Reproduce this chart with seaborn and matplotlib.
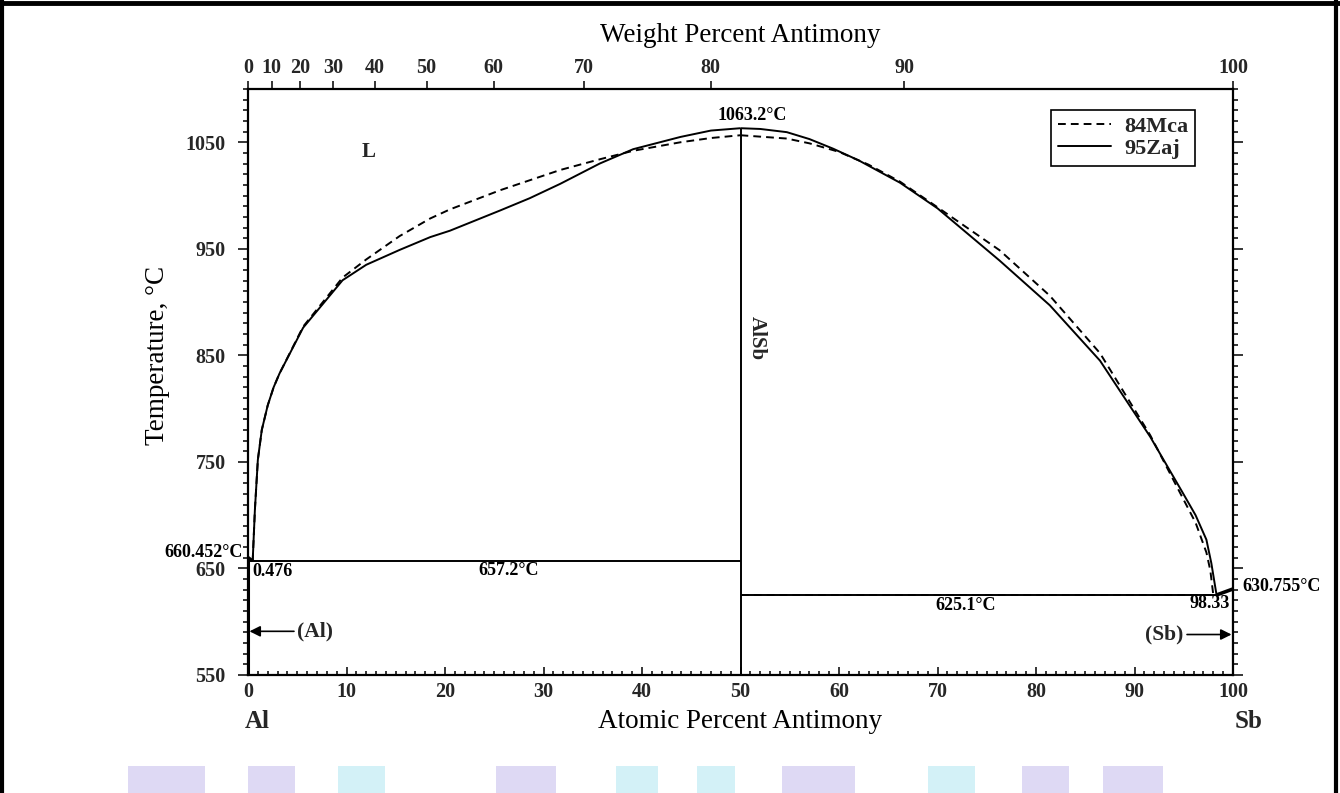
import matplotlib
matplotlib.use("Agg")
import matplotlib.pyplot as plt
from matplotlib.lines import Line2D
from matplotlib.patches import Rectangle
from matplotlib.ticker import MultipleLocator, FixedLocator
import numpy as np
import pandas as pd
import seaborn as sns

# Atomic masses used for the weight-percent scale
M_AL = 26.9815
M_SB = 121.76

# Liquidus, 84Mca assessment (dashed)
mca_left_at = [0.476, 0.7, 1.0, 1.4, 2.0, 2.6, 3.2, 5.6, 9.6, 12.0, 15.4, 18.5,
               20.5, 25.6, 31.7, 35.7, 39.1, 43.9, 47.0, 50.0]
mca_left_T = [657.2, 705, 752, 780, 803, 820, 833, 877, 923, 940, 962, 978.5,
              987, 1005, 1024, 1034, 1042, 1050, 1054, 1056.6]
mca_right_at = [50.0, 54.7, 57.0, 60.0, 63.0, 66.2, 70.0, 76.3, 81.4, 86.5, 91.6,
                94.96, 96.2, 97.3, 97.7, 98.0]
mca_right_T = [1056.6, 1053.5, 1049, 1041, 1029, 1013, 989, 948.7, 906, 852, 775,
               715, 693, 665, 648, 625.1]

# Liquidus, 95Zaj assessment (solid)
zaj_left_at = [0.476, 0.7, 1.0, 1.4, 2.0, 2.6, 3.2, 5.6, 9.6, 12.0, 15.4, 18.5,
               20.5, 25.6, 28.6, 31.7, 35.7, 39.1, 43.9, 47.0, 50.0]
zaj_left_T = [657.2, 705, 752, 780, 803, 820, 833, 876, 920.5, 935, 949, 961,
              967, 986, 997.5, 1011, 1030, 1043.5, 1055, 1061, 1063.2]
zaj_right_at = [50.0, 52.0, 54.7, 57.0, 59.4, 62.0, 66.2, 70.0, 76.3, 81.4, 86.5,
                91.6, 94.96, 96.2, 97.3, 97.8, 98.33]
zaj_right_T = [1063.2, 1062.5, 1059.5, 1053, 1044, 1033, 1012, 988, 939, 897, 845,
               773.5, 720, 700, 677, 655, 625.1]

# Invariant temperatures and compositions
T_AL_MELT = 660.452
T_SB_MELT = 630.755
T_EUT_AL = 657.2
X_EUT_AL = 0.476
T_EUT_SB = 625.1
X_EUT_SB = 98.33
T_ALSB_MELT = 1063.2
X_ALSB = 50.0

wt_ticks = [0, 10, 20, 30, 40, 50, 60, 70, 80, 90, 100]
temp_ticks = [550, 650, 750, 850, 950, 1050]
at_ticks = [0, 10, 20, 30, 40, 50, 60, 70, 80, 90, 100]


def wt_to_at(w):
    w = np.asarray(w, dtype=float)
    a = w / M_SB
    b = (100.0 - w) / M_AL
    return 100.0 * a / (a + b)


sns.set_theme(style="ticks")
plt.rcParams["font.family"] = ["Liberation Serif", "DejaVu Serif"]
plt.rcParams["mathtext.fontset"] = "stix"

W, H = 1340, 793
fig = plt.figure(figsize=(W / 100, H / 100), dpi=100)
fig.patch.set_facecolor("white")

L, R, T, B = 248, 1233, 89, 675
ax = fig.add_axes([L / W, 1 - B / H, (R - L) / W, (B - T) / H])
ax.set_xlim(0, 100)
ax.set_ylim(550, 1100)

LW = 1.4
DASH = (0, (4, 2.6))


def draw(x, y, dashed=False, lw=LW):
    sns.lineplot(x=x, y=y, ax=ax, color="black", lw=lw, sort=False,
                 estimator=None, linestyle=DASH if dashed else "-",
                 legend=False, solid_capstyle="butt", solid_joinstyle="round")


# liquidus curves
draw(mca_left_at, mca_left_T, dashed=True)
draw(mca_right_at, mca_right_T, dashed=True)
draw(zaj_left_at, zaj_left_T)
draw(zaj_right_at, zaj_right_T)

# Al end: melting point to eutectic, eutectic isotherm
draw([0, X_EUT_AL], [T_AL_MELT, T_EUT_AL], lw=2.2)
draw([0, X_ALSB], [T_EUT_AL, T_EUT_AL])
draw([0, 0], [550, T_AL_MELT], lw=2.2)

# AlSb line compound
draw([X_ALSB, X_ALSB], [550, T_ALSB_MELT])

# Sb end: eutectic isotherm (both assessments), Sb melting
draw([X_ALSB, X_EUT_SB], [T_EUT_SB, T_EUT_SB])
draw([X_ALSB, 98.0], [T_EUT_SB, T_EUT_SB], dashed=True)
draw([X_EUT_SB, 100], [T_EUT_SB, T_SB_MELT], lw=2.6)
draw([100, 100], [550, T_SB_MELT], lw=2.2)

# axes styling
for s in ax.spines.values():
    s.set_linewidth(1.6)
    s.set_color("black")

ax.xaxis.set_major_locator(FixedLocator(at_ticks))
ax.xaxis.set_minor_locator(MultipleLocator(1))
ax.yaxis.set_major_locator(FixedLocator(temp_ticks))
ax.yaxis.set_minor_locator(MultipleLocator(10))
ax.tick_params(axis="x", which="both", direction="in", top=True, bottom=True,
               color="black", width=1.1, pad=5)
ax.tick_params(axis="x", which="major", length=6)
ax.tick_params(axis="x", which="minor", length=3)
ax.tick_params(axis="y", which="both", direction="out", left=True, right=True,
               color="black", width=1.1, pad=9)
ax.tick_params(axis="y", which="major", length=7)
ax.tick_params(axis="y", which="minor", length=3.5)

tick_font = dict(fontsize=14.5, fontweight="bold")
ax.set_xticks(at_ticks)
ax.set_xticklabels([str(v) for v in at_ticks], **tick_font)
ax.set_yticks(temp_ticks)
ax.set_yticklabels([str(v) for v in temp_ticks], **tick_font)
ax.set_xlabel("")
ax.set_ylabel("")

# weight-percent scale on top
top = ax.twiny()
top.set_xlim(0, 100)
top.set_xticks(wt_to_at(wt_ticks))
top.set_xticklabels([str(v) for v in wt_ticks], **tick_font)
top.tick_params(axis="x", direction="out", length=6, width=1.1, pad=2,
                color="black")
top.xaxis.set_minor_locator(FixedLocator([]))
for s in top.spines.values():
    s.set_visible(False)
top.set_xlabel("")

# axis titles
title_font = dict(fontsize=19.5, color="black")
fig.text((L + R) / 2 / W, 1 - 35 / H, "Weight Percent Antimony", ha="center",
         va="center", **title_font)
fig.text(740 / W, 1 - 722 / H, "Atomic Percent Antimony", ha="center",
         va="center", **title_font)
fig.text(257 / W, 1 - 722 / H, "Al", ha="center", va="center", fontsize=18,
         fontweight="bold")
fig.text(1249 / W, 1 - 722 / H, "Sb", ha="center", va="center", fontsize=18,
         fontweight="bold")
fig.text(157 / W, 1 - 355 / H, "Temperature, °C", ha="center", va="center",
         rotation=90, **title_font)

# annotations
ann = dict(fontsize=13, fontweight="bold", color="black")
ax.text(51.2, 1067, "1063.2°C", ha="center", va="bottom", **ann)
ax.text(12.2, 1040.6, "L", ha="center", va="center", fontsize=15,
        fontweight="bold")
ax.text(51.7, 866, "AlSb", ha="center", va="center", rotation=-90, fontsize=15,
        fontweight="bold")
ax.text(-0.5, 665.4, "660.452°C", ha="right", va="center", **ann)
ax.text(0.4, 647.5, "0.476", ha="left", va="center", **ann)
ax.text(26.5, 647.8, "657.2°C", ha="center", va="center", **ann)
ax.text(72.9, 615.5, "625.1°C", ha="center", va="center", **ann)
ax.text(99.7, 617.0, "98.33", ha="right", va="center", **ann)
ax.text(101.0, 633.0, "630.755°C", ha="left", va="center", clip_on=False, **ann)

arrow = dict(arrowstyle="-|>", color="black", lw=1.2, mutation_scale=16,
             shrinkA=0, shrinkB=0)
ax.annotate("(Al)", xy=(0.15, 591), xytext=(5.0, 591), ha="left", va="center",
            arrowprops=arrow, fontsize=15.5, fontweight="bold")
ax.annotate("(Sb)", xy=(99.85, 588), xytext=(95.0, 588), ha="right",
            va="center", arrowprops=arrow, fontsize=15.5, fontweight="bold")

# legend
handles = [Line2D([], [], color="black", lw=LW, linestyle=DASH, label="84Mca"),
           Line2D([], [], color="black", lw=LW, linestyle="-", label="95Zaj")]
leg = ax.legend(handles=handles, loc="upper right",
                bbox_to_anchor=((1195 - L) / (R - L), (B - 110) / (B - T)),
                borderaxespad=0, frameon=True, fancybox=False, framealpha=1,
                edgecolor="black", handlelength=2.4, handletextpad=0.6,
                borderpad=0.3, labelspacing=0.05,
                prop=dict(family="Liberation Serif", weight="bold", size=16))
leg.get_frame().set_linewidth(1.2)

# page frame
frame_kw = dict(transform=fig.transFigure, color="black", clip_on=False)
fig.add_artist(Line2D([0, 1], [1 - 2.5 / H, 1 - 2.5 / H], lw=3.5, **frame_kw))
fig.add_artist(Line2D([2 / W, 2 / W], [0, 1], lw=3.0, **frame_kw))
fig.add_artist(Line2D([1336 / W, 1336 / W], [0, 1], lw=3.0, **frame_kw))

# pale decorative bands along the lower edge
bands = [(128, 205, "#d6d0f2"), (248, 295, "#d6d0f2"), (338, 385, "#c8eef6"),
         (496, 556, "#d6d0f2"), (616, 658, "#c8eef6"), (697, 735, "#c8eef6"),
         (782, 855, "#d6d0f2"), (928, 975, "#c8eef6"), (1022, 1069, "#d6d0f2"),
         (1103, 1163, "#d6d0f2")]
for x0, x1, c in bands:
    fig.add_artist(Rectangle((x0 / W, 0), (x1 - x0) / W, 27 / H,
                             transform=fig.transFigure, color=c, lw=0,
                             alpha=0.8))

fig.savefig("out.png", dpi=100, facecolor="white")
